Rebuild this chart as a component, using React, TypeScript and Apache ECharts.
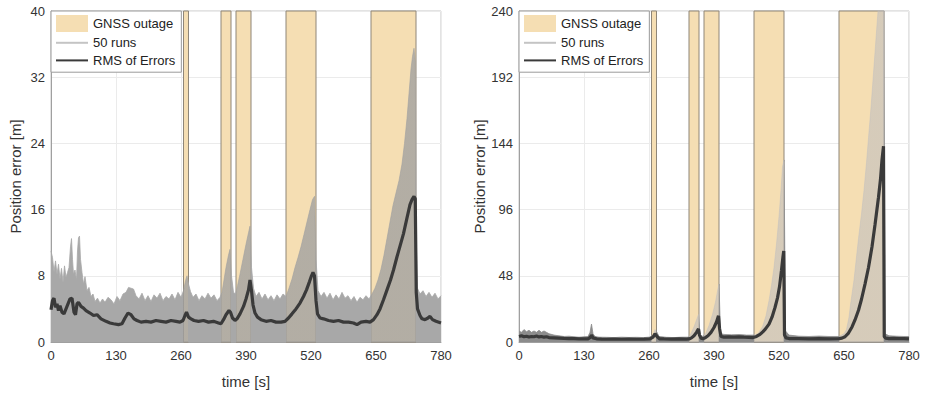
import React, { useEffect, useRef } from "react";
import * as echarts from "echarts";

// GNSS outage intervals [start, end] in seconds
const outages: [number, number][] = [
  [265, 275],
  [340, 360],
  [370, 400],
  [470, 530],
  [640, 730],
];

const xTicks = [0, 130, 260, 390, 520, 650, 780];

// Left panel: RMS of errors [t, m]
const leftRms: [number, number][] = [
  [0, 3.9], [3, 5.0], [6, 5.3], [9, 4.2], [12, 4.6], [15, 3.8], [18, 4.4], [22, 3.6], [26, 3.4], [30, 4.0],
  [34, 4.6], [38, 5.2], [42, 5.3], [46, 3.6], [49, 3.3], [52, 4.6], [55, 4.8], [60, 4.3], [65, 4.1], [70, 3.8],
  [78, 3.5], [85, 3.2], [92, 3.3], [100, 2.8], [110, 2.5], [118, 2.3], [125, 2.2], [135, 2.1], [142, 2.2], [148, 2.9],
  [154, 3.5], [160, 3.3], [166, 2.8], [172, 2.6], [180, 2.4], [190, 2.5], [200, 2.4], [210, 2.6], [220, 2.5], [230, 2.4],
  [240, 2.6], [250, 2.5], [258, 2.4], [264, 2.6], [268, 3.2], [271, 3.6], [275, 3.0], [280, 2.8], [286, 2.6], [295, 2.5],
  [305, 2.6], [315, 2.4], [325, 2.5], [335, 2.3], [340, 2.2], [345, 2.7], [350, 3.3], [356, 3.8], [359, 3.6], [363, 2.9],
  [368, 2.6], [372, 2.8], [378, 3.4], [385, 4.3], [390, 5.2], [395, 6.3], [398, 7.5], [401, 6.2], [404, 4.5], [408, 3.5],
  [413, 3.0], [420, 2.7], [430, 2.5], [440, 2.6], [450, 2.4], [460, 2.4], [468, 2.5], [475, 2.9], [482, 3.4], [490, 4.0],
  [498, 4.7], [505, 5.5], [511, 6.3], [517, 7.3], [521, 8.0], [524, 8.4], [527, 8.0], [530, 5.0], [533, 3.4], [538, 2.9],
  [545, 2.8], [555, 2.6], [565, 2.5], [575, 2.6], [585, 2.4], [595, 2.4], [605, 2.3], [612, 2.1], [620, 2.4], [630, 2.5],
  [638, 2.4], [645, 2.7], [652, 3.3], [658, 4.0], [665, 5.1], [672, 6.3], [679, 7.5], [685, 8.7], [692, 10.3], [699, 11.8],
  [705, 13.1], [712, 15.0], [718, 16.6], [722, 17.2], [726, 17.6], [728.5, 17.3], [730.5, 6.0], [733, 4.0], [738, 3.2], [742, 2.8],
  [748, 2.7], [754, 2.9], [758, 3.1], [763, 2.7], [770, 2.5], [780, 2.3],
];

// Left panel: upper envelope of the 50 runs [t, m]
const leftRunsTop: [number, number][] = [
  [0, 11.0], [3, 10.2], [6, 8.5], [9, 9.8], [12, 8.2], [15, 9.4], [18, 7.6], [21, 8.9], [24, 7.2], [27, 9.2],
  [30, 7.8], [33, 8.4], [36, 9.0], [39, 11.5], [41, 12.5], [43, 10.0], [45, 8.2], [48, 8.7], [51, 7.5], [53, 11.0],
  [55, 12.6], [57, 12.8], [59, 10.0], [62, 8.4], [65, 7.0], [68, 7.9], [72, 6.2], [76, 6.6], [80, 5.5], [84, 5.8],
  [88, 4.9], [93, 5.3], [98, 4.7], [103, 5.2], [108, 4.8], [114, 5.4], [120, 5.1], [126, 4.6], [132, 5.5], [138, 5.0],
  [144, 5.8], [150, 6.0], [155, 6.6], [160, 6.5], [165, 6.4], [170, 5.6], [176, 5.2], [182, 5.9], [188, 5.0], [194, 5.6],
  [200, 4.9], [206, 5.7], [212, 5.3], [218, 5.9], [224, 5.0], [230, 5.5], [236, 5.2], [242, 5.8], [248, 5.1], [254, 6.0],
  [260, 5.4], [265, 6.2], [269, 7.4], [272, 8.0], [275, 7.0], [279, 6.1], [284, 5.4], [290, 5.8], [296, 5.0], [302, 5.6],
  [308, 5.2], [314, 5.9], [320, 5.3], [326, 5.7], [332, 5.0], [338, 5.4], [342, 6.0], [346, 7.5], [350, 9.0], [355, 10.5],
  [358, 11.2], [361, 8.0], [365, 6.0], [369, 5.8], [373, 6.8], [378, 8.2], [384, 10.0], [390, 11.8], [395, 13.2], [398, 14.0],
  [401, 9.0], [405, 6.5], [410, 5.5], [416, 6.0], [422, 5.2], [428, 5.8], [434, 5.1], [440, 5.6], [446, 5.0], [452, 5.7],
  [458, 5.2], [464, 5.8], [470, 5.5], [476, 6.5], [482, 7.6], [488, 9.0], [494, 10.2], [500, 11.5], [506, 13.0], [512, 14.5],
  [518, 16.0], [523, 17.2], [527, 17.6], [530, 10.0], [534, 6.2], [540, 5.5], [546, 6.0], [552, 5.3], [558, 5.9], [564, 5.1],
  [570, 5.7], [576, 5.2], [582, 6.0], [588, 5.3], [594, 5.6], [600, 5.0], [606, 5.5], [612, 4.8], [618, 5.4], [624, 5.1],
  [630, 5.6], [636, 5.2], [642, 5.8], [648, 6.5], [654, 7.5], [660, 8.8], [666, 10.5], [672, 12.5], [678, 14.5], [684, 16.5],
  [690, 18.0], [696, 19.5], [702, 21.5], [707, 24.0], [712, 27.0], [716, 30.0], [720, 33.0], [723, 34.5], [726, 35.5], [728.5, 34.0],
  [730.5, 12.0], [733, 6.5], [738, 5.8], [744, 6.2], [750, 5.5], [756, 6.0], [762, 5.4], [768, 5.9], [774, 5.2], [780, 5.6],
];

// Right panel: RMS of errors [t, m]
const rightRms: [number, number][] = [
  [0, 4.0], [5, 4.5], [10, 3.8], [15, 4.2], [20, 3.6], [25, 4.0], [30, 3.8], [35, 4.3], [40, 3.7], [45, 4.0],
  [50, 3.5], [55, 3.8], [60, 3.2], [70, 3.0], [80, 2.8], [90, 2.6], [100, 2.5], [110, 2.4], [120, 2.3], [130, 2.2],
  [138, 2.3], [143, 3.5], [145, 5.0], [148, 3.0], [155, 2.3], [165, 2.1], [175, 2.0], [190, 2.1], [205, 2.0], [220, 2.1],
  [235, 2.0], [250, 2.1], [262, 2.2], [268, 3.5], [272, 6.0], [276, 4.0], [281, 2.3], [290, 2.2], [305, 2.1], [320, 2.2],
  [335, 2.1], [340, 2.2], [345, 3.0], [350, 4.5], [355, 7.0], [359, 9.5], [361, 5.0], [364, 2.8], [368, 2.4], [372, 3.0],
  [378, 4.5], [384, 7.0], [390, 10.5], [395, 14.5], [399, 19.0], [401, 10.0], [404, 4.0], [410, 3.5], [420, 3.7], [430, 3.6],
  [440, 3.7], [450, 3.5], [460, 3.4], [468, 3.2], [475, 4.0], [482, 5.5], [488, 7.5], [493, 9.5], [500, 13.0], [506, 18.0],
  [512, 25.0], [517, 32.0], [521, 40.0], [525, 52.0], [528, 62.0], [529.5, 66.0], [531, 5.0], [534, 3.0], [540, 2.5], [560, 2.4],
  [580, 2.3], [600, 2.4], [620, 2.3], [640, 2.4], [646, 2.8], [652, 3.8], [659, 6.5], [666, 10.9], [672, 16.0], [679, 23.0],
  [685, 31.0], [692, 42.0], [699, 54.0], [706, 69.0], [712, 85.0], [719, 105.0], [723, 118.0], [726, 132.0], [729, 142.0], [730.5, 4.0],
  [733, 2.8], [740, 2.5], [750, 2.6], [760, 2.4], [770, 2.5], [780, 2.3],
];

// Right panel: upper envelope of the 50 runs [t, m]
const rightRunsTop: [number, number][] = [
  [0, 8.0], [5, 7.0], [10, 9.0], [15, 7.5], [20, 8.5], [25, 7.0], [30, 8.0], [35, 7.0], [40, 8.5], [45, 7.0],
  [50, 8.0], [55, 7.0], [60, 6.0], [70, 5.0], [80, 4.5], [90, 4.0], [100, 4.2], [110, 3.8], [120, 3.5], [130, 3.8],
  [138, 4.0], [142, 7.0], [145, 13.0], [148, 6.0], [152, 4.0], [160, 3.5], [175, 3.4], [190, 3.2], [205, 3.5], [220, 3.3],
  [235, 3.4], [250, 3.2], [262, 3.6], [268, 5.0], [272, 9.0], [276, 7.0], [280, 4.0], [295, 3.4], [310, 3.2], [325, 3.5],
  [340, 3.5], [345, 7.0], [350, 11.0], [355, 16.0], [359, 20.0], [362, 5.0], [368, 4.0], [373, 6.0], [380, 12.0], [387, 20.0],
  [393, 29.0], [397, 37.0], [400, 42.0], [403, 6.0], [410, 5.5], [425, 5.2], [440, 5.4], [455, 5.0], [470, 5.0], [478, 6.0],
  [487, 11.0], [494, 19.0], [500, 30.0], [505, 41.0], [510, 54.0], [515, 71.0], [520, 91.0], [524, 110.0], [527, 127.0], [530, 132.0],
  [533, 8.0], [540, 5.0], [560, 4.2], [580, 4.0], [600, 4.3], [620, 4.0], [640, 4.0], [645, 5.0], [650, 6.0], [655, 9.0],
  [660, 18.0], [663, 27.0], [670, 45.0], [679, 75.0], [685, 93.0], [690, 110.0], [695, 130.0], [699, 148.0], [704, 170.0], [708, 190.0],
  [712, 210.0], [716, 230.0], [720, 250.0], [725, 270.0], [729, 290.0], [732, 6.0], [740, 4.5], [755, 4.2], [770, 4.0], [780, 4.0],
];

const FONT = "Liberation Sans, Arial, Helvetica, sans-serif";
const WHEAT = "#F5DEB3";

export default function App() {
  const ref = useRef<HTMLDivElement>(null);

  useEffect(() => {
    document.body.style.margin = "0";
    if (!ref.current) return;
    const chart = echarts.init(ref.current, null, { renderer: "svg" });

    const panels = [
      { left: 51, yMax: 40, yInt: 8, rms: leftRms, runs: leftRunsTop, baseColor: "#a8a8a8", fanColor: "rgba(160,160,160,0.78)" },
      { left: 519, yMax: 240, yInt: 48, rms: rightRms, runs: rightRunsTop, baseColor: "#8c8c8c", fanColor: "rgba(188,188,192,0.55)" },
    ];

    const grid = panels.map((p) => ({
      left: p.left,
      top: 11,
      width: 390,
      height: 331,
      show: true,
      borderColor: "#c6c6c6",
      borderWidth: 1,
      backgroundColor: "#ffffff",
    }));

    const xAxis = panels.map((_, i) => ({
      type: "value",
      gridIndex: i,
      min: 0,
      max: 780,
      interval: 130,
      name: "time [s]",
      nameLocation: "middle",
      nameGap: 32,
      nameTextStyle: { fontFamily: FONT, fontSize: 15, color: "#333" },
      axisLine: { show: true, lineStyle: { color: "#a0a0a0", width: 1 } },
      axisTick: { show: false },
      axisLabel: {
        fontFamily: FONT,
        fontSize: 13,
        color: "#333",
        margin: 7,
        formatter: (v: number) => (xTicks.includes(v) ? String(v) : ""),
      },
      splitLine: { show: true, lineStyle: { color: "#ebebeb", width: 1 } },
    }));

    const yAxis = panels.map((p, i) => ({
      type: "value",
      gridIndex: i,
      min: 0,
      max: p.yMax,
      interval: p.yInt,
      name: "Position error [m]",
      nameLocation: "middle",
      nameGap: i === 0 ? 28 : 30,
      nameTextStyle: { fontFamily: FONT, fontSize: 15, color: "#333" },
      axisLine: { show: true, lineStyle: { color: "#a0a0a0", width: 1 } },
      axisTick: { show: false },
      axisLabel: { fontFamily: FONT, fontSize: 13, color: "#333", margin: 6 },
      splitLine: { show: true, lineStyle: { color: "#ebebeb", width: 1 } },
    }));

    const series: any[] = [];
    const bandIdx: number[] = [];
    panels.forEach((p, i) => {
      series.push({
        name: "GNSS outage",
        type: "line",
        xAxisIndex: i,
        yAxisIndex: i,
        data: [],
        symbol: "none",
        z: 1,
        itemStyle: { color: WHEAT },
        lineStyle: { color: WHEAT },
        markArea: {
          silent: true,
          itemStyle: { color: WHEAT, borderColor: "#8f8678", borderWidth: 1 },
          data: outages.map(([a, b]) => [{ xAxis: a }, { xAxis: b }]),
        },
      });
      bandIdx.push(series.length);
      series.push({
        name: "band" + i,
        type: "line",
        xAxisIndex: i,
        yAxisIndex: i,
        data: p.runs,
        symbol: "none",
        silent: true,
        lineStyle: { width: 0.8 },
        areaStyle: { opacity: 1, origin: "start" },
        z: 2,
      });
      series.push({
        name: "50 runs",
        type: "line",
        xAxisIndex: i,
        yAxisIndex: i,
        data: [],
        symbol: "none",
        itemStyle: { color: "#c4c4c4" },
        lineStyle: { color: "#c4c4c4", width: 1 },
      });
      series.push({
        name: "RMS of Errors",
        type: "line",
        xAxisIndex: i,
        yAxisIndex: i,
        data: p.rms,
        symbol: "none",
        itemStyle: { color: "#3a3a3a" },
        lineStyle: { color: "#3a3a3a", width: 3.2 },
        z: 3,
      });
    });

    const visualMap = panels.map((p, i) => ({
      type: "piecewise",
      show: false,
      dimension: 0,
      seriesIndex: bandIdx[i],
      pieces: outages.map(([a, b]) => ({ gte: a, lte: b, color: p.fanColor })),
      outOfRange: { color: p.baseColor },
    }));

    const legendData = [
      { name: "GNSS outage", icon: "rect", itemStyle: { color: WHEAT, borderWidth: 0 } },
      { name: "50 runs", itemStyle: { opacity: 0 } },
      { name: "RMS of Errors", itemStyle: { opacity: 0 } },
    ];

    const legend = panels.map((p) => ({
      left: p.left,
      top: 11,
      orient: "vertical",
      data: legendData,
      itemWidth: 32,
      itemHeight: 17,
      itemGap: 4,
      padding: [4, 6, 5, 4],
      backgroundColor: "#ffffff",
      borderColor: "#9a9a9a",
      borderWidth: 1,
      borderRadius: 0,
      selectedMode: false,
      textStyle: { fontFamily: FONT, fontSize: 13, color: "#222" },
    }));

    chart.setOption({
      animation: false,
      backgroundColor: "#ffffff",
      grid,
      xAxis,
      yAxis,
      legend,
      visualMap,
      series,
    });

    return () => chart.dispose();
  }, []);

  return <div ref={ref} style={{ width: 926, height: 395 }} />;
}
